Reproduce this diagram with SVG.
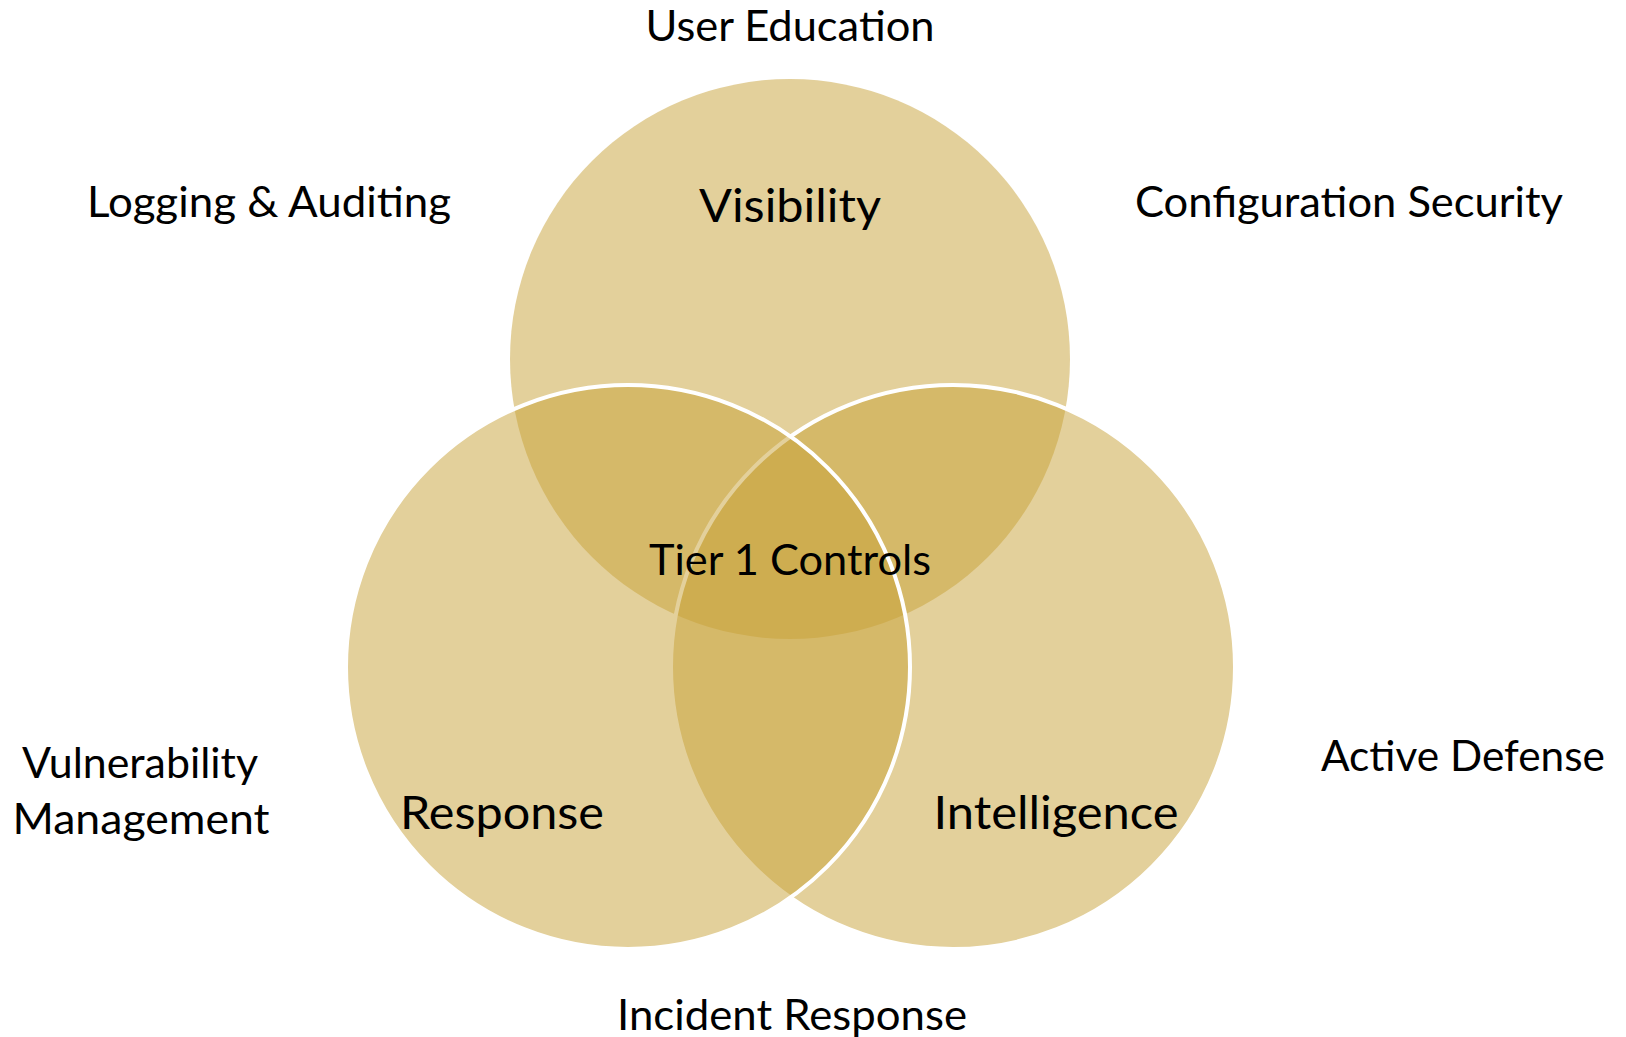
<svg xmlns="http://www.w3.org/2000/svg" width="1626" height="1037" viewBox="0 0 1626 1037">
  <style>
    .ring { fill: #C7A137; fill-opacity: 0.5; }
    .ring.edged { stroke: #FFFFFF; stroke-width: 4; }
    text { font-family: "Lato", "Liberation Sans", sans-serif; fill: #000000; text-anchor: middle; }
    .outer { font-size: 42px; }
    .core { font-size: 47px; }
    .centre { font-size: 42px; }
  </style>
  <rect x="0" y="0" width="1626" height="1037" fill="#FFFFFF"/>

  <!-- three overlapping circles of the Venn diagram -->
  <g id="visibility">
    <circle class="ring" cx="790" cy="359" r="280"/>
    <text class="core" x="790" y="222" textLength="182" lengthAdjust="spacingAndGlyphs">Visibility</text>
  </g>
  <g id="intelligence">
    <circle class="ring edged" cx="953" cy="667" r="282"/>
    <text class="core" x="1056" y="829" textLength="245" lengthAdjust="spacingAndGlyphs">Intelligence</text>
  </g>
  <g id="response">
    <circle class="ring edged" cx="628" cy="667" r="282"/>
    <text class="core" x="502" y="829" textLength="204" lengthAdjust="spacingAndGlyphs">Response</text>
  </g>

  <!-- shared centre label -->
  <g id="tier1">
    <text class="centre" x="790" y="575" textLength="282" lengthAdjust="spacingAndGlyphs">Tier 1 Controls</text>
  </g>

  <!-- surrounding practice labels -->
  <g id="user-education">
    <text class="outer" x="790" y="41" textLength="289" lengthAdjust="spacingAndGlyphs">User Education</text>
  </g>
  <g id="logging-auditing">
    <text class="outer" x="269" y="217" textLength="364" lengthAdjust="spacingAndGlyphs">Logging &amp; Auditing</text>
  </g>
  <g id="configuration-security">
    <text class="outer" x="1349" y="217" textLength="428" lengthAdjust="spacingAndGlyphs">Configuration Security</text>
  </g>
  <g id="vulnerability-management">
    <text class="outer" x="140" y="778" textLength="236" lengthAdjust="spacingAndGlyphs">Vulnerability</text>
    <text class="outer" x="141" y="834" textLength="257" lengthAdjust="spacingAndGlyphs">Management</text>
  </g>
  <g id="active-defense">
    <text class="outer" x="1463" y="771" textLength="284" lengthAdjust="spacingAndGlyphs">Active Defense</text>
  </g>
  <g id="incident-response">
    <text class="outer" x="792" y="1030" textLength="350" lengthAdjust="spacingAndGlyphs">Incident Response</text>
  </g>

  <g id="connectors"></g>
</svg>
